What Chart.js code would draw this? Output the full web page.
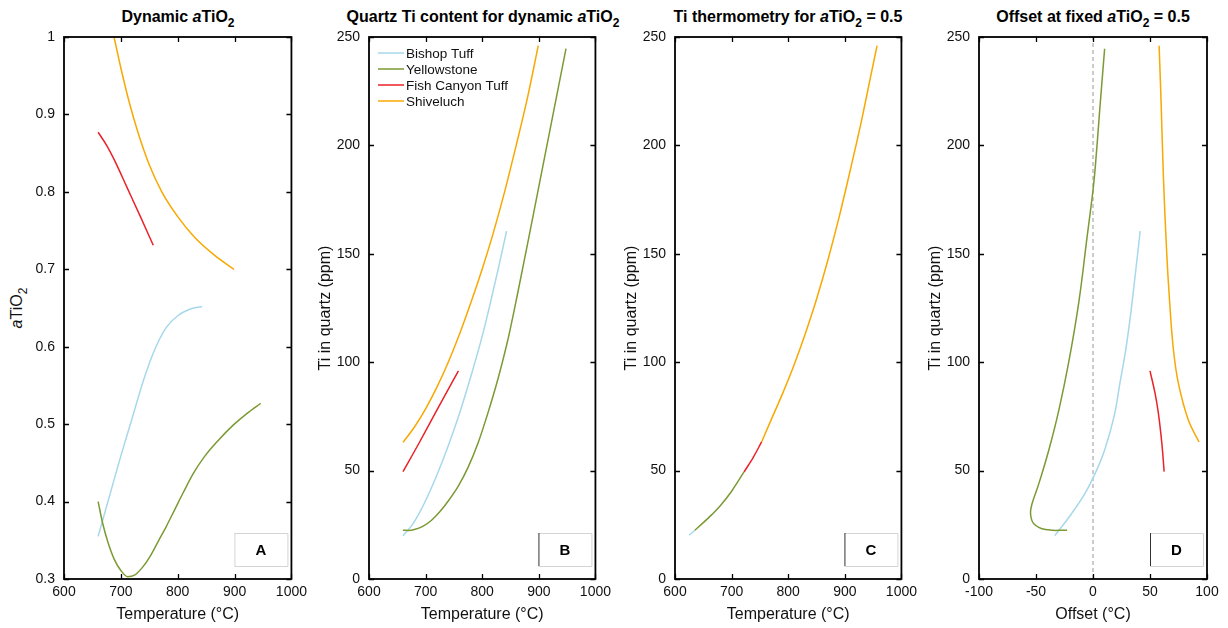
<!DOCTYPE html>
<html>
<head>
<meta charset="utf-8">
<script src="https://cdn.jsdelivr.net/npm/chart.js@4.4.0/dist/chart.umd.min.js"></script>
<style>
  body { margin: 0; background: #fff; font-family: "Liberation Sans", Arial, sans-serif; }
  #wrap { position: relative; width: 1228px; height: 628px; overflow: hidden; }
  canvas { position: absolute; top: 0; }
  .ttl { position: absolute; top: 7px; width: 400px; text-align: center; font-weight: bold;
         font-size: 16px; line-height: 20px; color: #000; white-space: nowrap; }
  .ttl sub, .ylab sub { font-size: 12px; vertical-align: -5px; line-height: 0; }
  .ylab { position: absolute; width: 200px; text-align: center; font-size: 16px; line-height: 20px;
          color: #111; transform: rotate(-90deg); white-space: nowrap; }
</style>
</head>
<body>
<div id="wrap">
  <div class="ttl" style="left:-22px">Dynamic <i>a</i>TiO<sub>2</sub></div>
  <div class="ttl" style="left:283px">Quartz Ti content for dynamic <i>a</i>TiO<sub>2</sub></div>
  <div class="ttl" style="left:588px">Ti thermometry for <i>a</i>TiO<sub>2</sub> = 0.5</div>
  <div class="ttl" style="left:893px">Offset at fixed <i>a</i>TiO<sub>2</sub> = 0.5</div>
  <div class="ylab" style="left:-83px; top:298px"><i>a</i>TiO<sub>2</sub></div>

  <canvas id="chartA" width="308" height="628" style="left:4px"></canvas>
  <canvas id="chartB" width="307" height="628" style="left:309px"></canvas>
  <canvas id="chartC" width="307" height="628" style="left:615px"></canvas>
  <canvas id="chartD" width="308" height="628" style="left:919px"></canvas>
</div>

<script>
/* ------------------------------
   DATA
--------------------------------*/
const seriesNames = ["Bishop Tuff", "Yellowstone", "Fish Canyon Tuff", "Shiveluch"];

const tempTicks = [600, 700, 800, 900, 1000];
const activityTicks = [0.3, 0.4, 0.5, 0.6, 0.7, 0.8, 0.9, 1];
const ppmTicks = [0, 50, 100, 150, 200, 250];
const offsetTicks = [-100, -50, 0, 50, 100];

// A: [temperature, aTiO2]
const bishopA = [[660,0.355],[680,0.407],[700,0.459],[720,0.508],[740,0.557],[760,0.597],[780,0.625],[800,0.640],[820,0.648],[843,0.652]];
const yellowA = [[660,0.400],[668,0.372],[677,0.348],[688,0.326],[700,0.311],[712,0.303],[724,0.305],[738,0.315],[752,0.330],[766,0.349],[780,0.368],[795,0.390],[810,0.412],[828,0.437],[848,0.459],[870,0.478],[898,0.499],[922,0.514],[946,0.527]];
const fishA = [[660,0.877],[675,0.860],[690,0.839],[710,0.807],[735,0.767],[757,0.731]];
const shivA = [[688,1.000],[700,0.960],[715,0.915],[730,0.877],[750,0.835],[772,0.800],[800,0.768],[830,0.741],[865,0.718],[899,0.700]];

// B: [temperature, Ti ppm]
const bishopB = [[660,20],[675,24.5],[690,31],[705,39],[720,48],[740,61.5],[760,76.5],[780,93.5],[800,112],[815,128],[830,145],[843,160.5]];
const yellowB = [[660,22.5],[670,22.4],[680,22.8],[695,24.3],[710,27],[725,31],[740,36],[758,43],[775,51.5],[793,63],[810,76.5],[828,92.5],[845,110],[862,131],[880,154.5],[900,181],[920,207.5],[948,244.6]];
const fishB = [[660,49.5],[688,62.5],[717,76.5],[758,96]];
const shivB = [[660,63],[680,70],[700,78.5],[720,88.5],[740,100],[760,113],[780,127.5],[800,143],[820,160],[840,179],[860,200],[880,222],[899,246]];

// C: [temperature, Ti ppm] (visible part of each series)
const bishopC = [[625,20.2],[635,22.5]];
const yellowC = [[635,22.5],[650,26],[665,29.7],[680,33.8],[700,40.5],[722,49.4]];
const fishC = [[722,49.4],[738,56],[753,63.2]];
const shivC = [[753,63.2],[770,73.5],[790,85.5],[810,98.5],[830,113],[850,129],[870,147],[890,167],[910,189],[930,212],[945,231],[957,246]];

// D: [offset, Ti ppm]
const bishopD = [[-33.5,20],[-19,30],[-6.5,40],[3,50],[10.5,60],[18.5,75],[23.5,90],[28.5,105],[32.5,120],[37,140],[41.4,160.5]];
const yellowD = [[-22.7,22.5],[-41.7,22.8],[-51.9,25.5],[-54.8,30.1],[-53.4,34.8],[-47.5,44],[-38.8,59.4],[-30,77.8],[-21.3,100],[-12.5,127.5],[-5.2,157.7],[0,179.3],[2,190],[6,217],[10.2,244.6]];
const fishD = [[50,96],[54.5,85.5],[57.4,76.3],[60.5,62],[62.4,49.5]];
const shivD = [[58,246],[59.8,219],[61.8,185],[64.7,150],[67.2,128],[70.6,105.5],[75,90],[83.7,73.2],[93,63.2]];
const zeroLine = [[0,0],[0,250]];

/* ------------------------------
   STYLE
--------------------------------*/
const colors = ["#a6d8ea", "#7b9a34", "#ea2229", "#f8a800"];
const FONT = "'Liberation Sans', Arial, sans-serif";

/* ------------------------------
   FRAME, INWARD TICKS, PANEL LETTER, LEGEND
--------------------------------*/
const framePlugin = {
  id: "frame",
  afterDatasetsDraw(chart, args, opts) {
    const { ctx, chartArea: { left, right, top, bottom }, scales: { x, y } } = chart;
    ctx.save();

    // inward ticks on all sides
    ctx.strokeStyle = "#000";
    ctx.lineWidth = 1.3;
    ctx.beginPath();
    x.ticks.forEach(t => {
      const px = Math.round(x.getPixelForValue(t.value)) + 0.5;
      ctx.moveTo(px, bottom); ctx.lineTo(px, bottom - 5);
      ctx.moveTo(px, top); ctx.lineTo(px, top + 5);
    });
    y.ticks.forEach(t => {
      const py = Math.round(y.getPixelForValue(t.value)) + 0.5;
      ctx.moveTo(left, py); ctx.lineTo(left + 5, py);
      ctx.moveTo(right, py); ctx.lineTo(right - 5, py);
    });
    ctx.stroke();

    // frame
    ctx.lineWidth = 1.8;
    ctx.strokeRect(left, top, right - left, bottom - top);

    // panel letter box
    const bw = 53, bh = 33;
    const bx = right - 4 - bw, by = bottom - 13 - bh;
    ctx.fillStyle = "#fff";
    ctx.fillRect(bx, by, bw, bh);
    ctx.lineWidth = 1;
    ctx.strokeStyle = "#d4d4d4";
    ctx.beginPath();
    ctx.moveTo(bx, by + 0.5); ctx.lineTo(bx + bw + 0.5, by + 0.5);
    ctx.lineTo(bx + bw + 0.5, by + bh + 0.5); ctx.lineTo(bx, by + bh + 0.5);
    ctx.stroke();
    ctx.strokeStyle = opts.darkLeft ? "#333" : "#d4d4d4";
    ctx.beginPath();
    ctx.moveTo(bx + 0.5, by); ctx.lineTo(bx + 0.5, by + bh);
    ctx.stroke();
    ctx.fillStyle = "#000";
    ctx.font = "bold 15px " + FONT;
    ctx.textAlign = "center";
    ctx.textBaseline = "middle";
    ctx.fillText(opts.letter, bx + bw / 2, by + bh / 2 + 1);

    // legend inside the plot
    if (opts.legend) {
      ctx.font = "13.5px " + FONT;
      ctx.textAlign = "left";
      seriesNames.forEach((name, i) => {
        const ly = top + 16 + i * 16;
        ctx.strokeStyle = colors[i];
        ctx.lineWidth = 1.5;
        ctx.beginPath();
        ctx.moveTo(left + 9, ly); ctx.lineTo(left + 35, ly);
        ctx.stroke();
        ctx.fillStyle = "#111";
        ctx.fillText(name, left + 37, ly + 1);
      });
    }
    ctx.restore();
  }
};

/* ------------------------------
   BUILD CHARTS
--------------------------------*/
function toXY(arr) {
  return arr.map(p => ({ x: p[0], y: p[1] }));
}

function curve(arr, i, monotone) {
  const ds = {
    data: toXY(arr),
    borderColor: colors[i],
    borderWidth: 1.5,
    showLine: true,
    pointRadius: 0,
    fill: false,
    order: 4 - i
  };
  if (monotone) ds.cubicInterpolationMode = "monotone";
  else ds.tension = 0.4;
  return ds;
}

function axis(ticksArr, title) {
  return {
    type: "linear",
    min: ticksArr[0],
    max: ticksArr[ticksArr.length - 1],
    afterBuildTicks: s => { s.ticks = ticksArr.map(v => ({ value: v })); },
    grid: { display: false, drawTicks: false },
    border: { display: false },
    ticks: {
      autoSkip: false, maxRotation: 0, padding: 5,
      color: "#111", font: { size: 14, family: FONT },
      callback: v => String(v)
    },
    title: {
      display: !!title, text: title || "", color: "#111",
      font: { size: 16, family: FONT }, padding: { top: 0, bottom: 4 }
    }
  };
}

function makeChart(id, series, xTicks, yTicks, xTitle, yTitle, frameOpts, monotone, extra) {
  const xs = axis(xTicks, xTitle);
  xs.afterFit = s => { s.height = 49; };
  const ys = axis(yTicks, yTitle);
  ys.ticks.padding = 9;
  ys.title.padding = { top: 7, bottom: 0 };
  ys.afterFit = s => { s.width = 60; };

  const datasets = series.map((arr, i) => curve(arr, i, monotone));
  if (extra) datasets.push(extra);

  return new Chart(document.getElementById(id).getContext("2d"), {
    type: "scatter",
    data: { datasets },
    options: {
      responsive: false,
      animation: false,
      layout: { padding: { top: 37, right: 20, bottom: 0, left: 0 } },
      plugins: { legend: { display: false }, tooltip: { enabled: false }, frame: frameOpts },
      scales: { x: xs, y: ys }
    },
    plugins: [framePlugin]
  });
}

makeChart("chartA", [bishopA, yellowA, fishA, shivA], tempTicks, activityTicks,
  "Temperature (°C)", "", { letter: "A", darkLeft: false }, true);

makeChart("chartB", [bishopB, yellowB, fishB, shivB], tempTicks, ppmTicks,
  "Temperature (°C)", "Ti in quartz (ppm)", { letter: "B", darkLeft: true, legend: true }, true);

makeChart("chartC", [bishopC, yellowC, fishC, shivC], tempTicks, ppmTicks,
  "Temperature (°C)", "Ti in quartz (ppm)", { letter: "C", darkLeft: true }, true);

makeChart("chartD", [bishopD, yellowD, fishD, shivD], offsetTicks, ppmTicks,
  "Offset (°C)", "Ti in quartz (ppm)", { letter: "D", darkLeft: true }, false, {
    data: toXY(zeroLine),
    borderColor: "#999",
    borderWidth: 1,
    borderDash: [4, 3],
    showLine: true,
    pointRadius: 0,
    order: 10
  });
</script>
</body>
</html>
